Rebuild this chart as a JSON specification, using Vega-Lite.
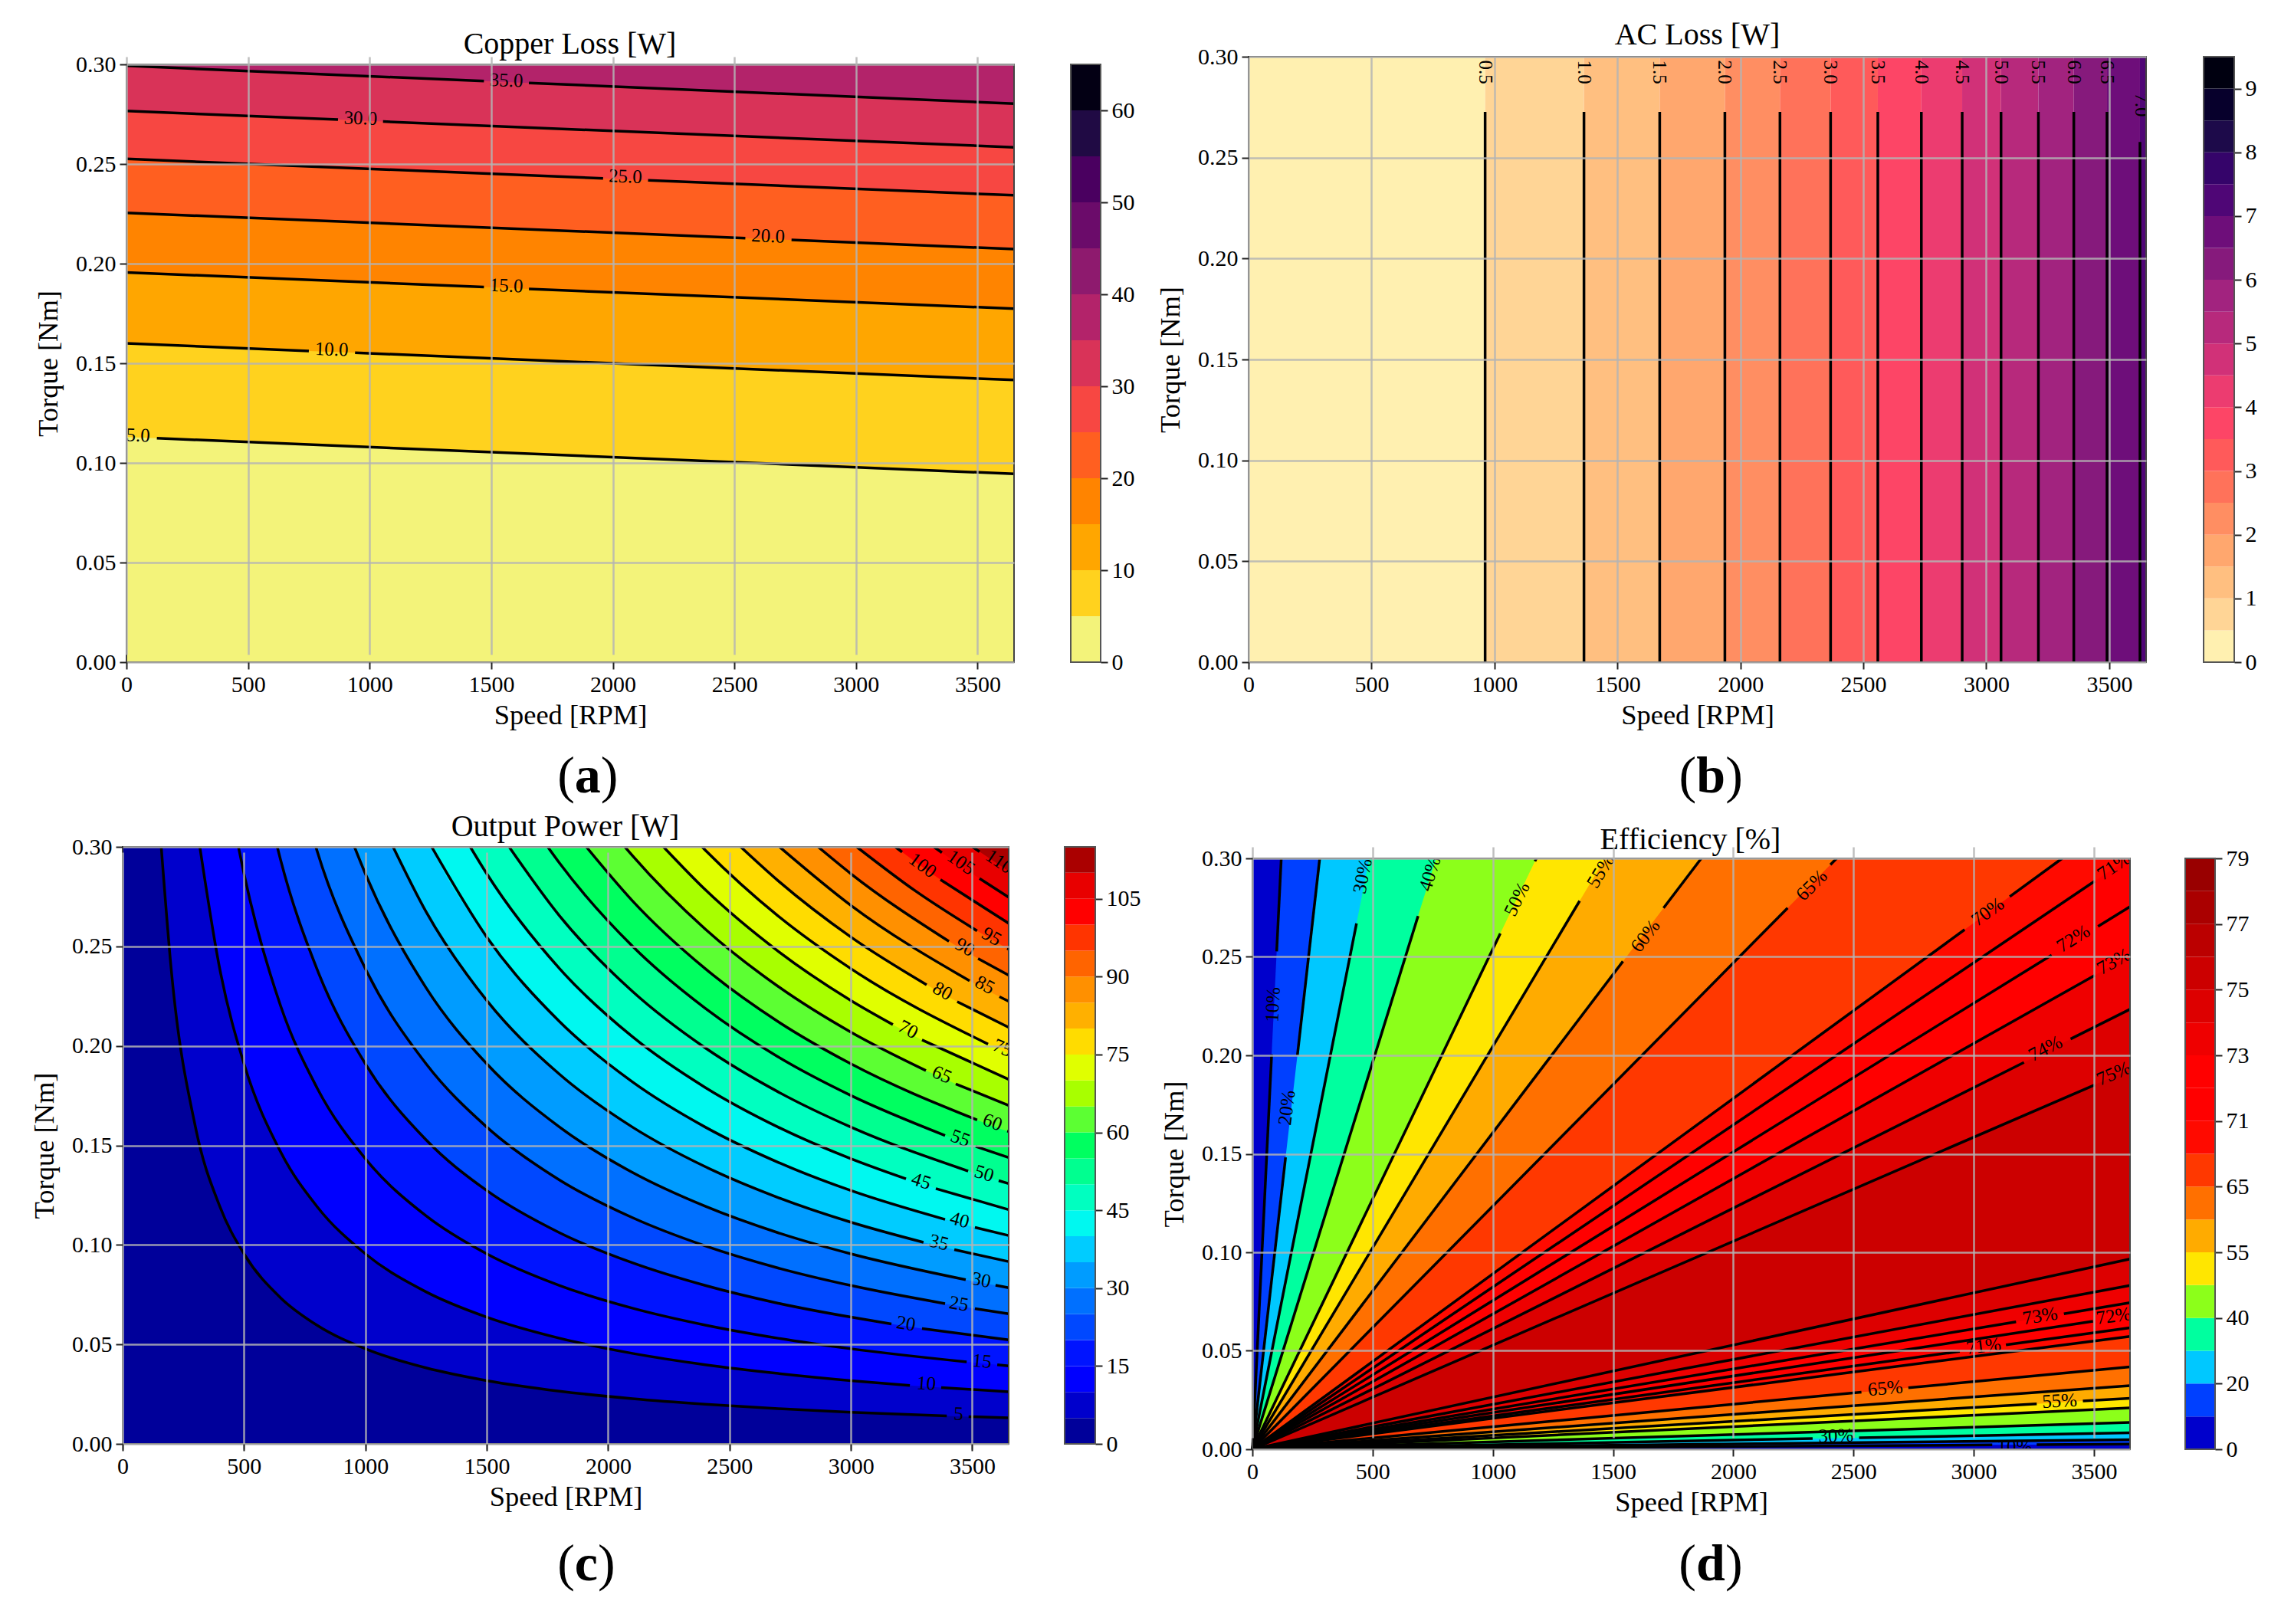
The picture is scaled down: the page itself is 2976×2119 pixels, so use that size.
{"$schema":"https://vega.github.io/schema/vega-lite/v6.json","background":"white","padding":{"left":40,"top":26,"right":5,"bottom":5},"autosize":{"type":"pad"},"columns":4,"bounds":"flush","spacing":{"row":241,"column":0},"resolve":{"scale":{"color":"independent"}},
"config":{"view":{"stroke":null},"title":{"font":"Liberation Serif","fontSize":40,"fontWeight":"normal","color":"black"},"axis":{"labelFont":"Liberation Serif","labelFontSize":30,"labelColor":"black","titleFont":"Liberation Serif","titleFontSize":36.5,"titleFontWeight":"normal","titleColor":"black","tickColor":"#222","tickSize":9,"tickWidth":2,"domain":false,"labelFlush":false,"labelOverlap":false,"labelBound":false,"labelPadding":5,"gridColor":"#b4b4b4","gridWidth":2.5,"gridOpacity":0.85}},
"datasets":{
"aLines":[{"lo":35,"s":0,"t":0.3,"g":0},{"lo":35,"s":3650,"t":0.3,"g":0},
{"lo":30,"s":0,"t":0.2993,"g":1},{"lo":30,"s":1470,"t":0.2916,"g":1},{"lo":30,"s":1655,"t":0.2907,"g":2},{"lo":30,"s":3650,"t":0.2803,"g":2},
{"lo":25,"s":0,"t":0.2766,"g":1},{"lo":25,"s":870,"t":0.2723,"g":1},{"lo":25,"s":1055,"t":0.2713,"g":2},{"lo":25,"s":3650,"t":0.2584,"g":2},
{"lo":20,"s":0,"t":0.2526,"g":1},{"lo":20,"s":1960,"t":0.2428,"g":1},{"lo":20,"s":2145,"t":0.2418,"g":2},{"lo":20,"s":3650,"t":0.2343,"g":2},
{"lo":15,"s":0,"t":0.2255,"g":1},{"lo":15,"s":2545,"t":0.2128,"g":1},{"lo":15,"s":2735,"t":0.2119,"g":2},{"lo":15,"s":3650,"t":0.2073,"g":2},
{"lo":10,"s":0,"t":0.1956,"g":1},{"lo":10,"s":1470,"t":0.1883,"g":1},{"lo":10,"s":1655,"t":0.1873,"g":2},{"lo":10,"s":3650,"t":0.1774,"g":2},
{"lo":5,"s":0,"t":0.16,"g":1},{"lo":5,"s":750,"t":0.1562,"g":1},{"lo":5,"s":940,"t":0.1553,"g":2},{"lo":5,"s":3650,"t":0.1416,"g":2},
{"lo":0,"s":0,"t":0.113,"g":0},{"lo":0,"s":125,"t":0.1124,"g":2},{"lo":0,"s":3650,"t":0.0945,"g":2}],
"aLabels":[{"lab":"35.0","s":1562,"t":0.292},{"lab":"30.0","s":963,"t":0.273},{"lab":"25.0","s":2052,"t":0.2438},{"lab":"20.0","s":2639,"t":0.2139},{"lab":"15.0","s":1562,"t":0.189},{"lab":"10.0","s":844,"t":0.157},{"lab":"5.0","s":48,"t":0.1139}],
"aBar":[{"lo":0,"hi":5},{"lo":5,"hi":10},{"lo":10,"hi":15},{"lo":15,"hi":20},{"lo":20,"hi":25},{"lo":25,"hi":30},{"lo":30,"hi":35},{"lo":35,"hi":40},{"lo":40,"hi":45},{"lo":45,"hi":50},{"lo":50,"hi":55},{"lo":55,"hi":60},{"lo":60,"hi":65}],
"bBands":[{"lo":0,"s":0,"s2":962,"t":0,"t2":0.3,"top":0.2727},{"lo":0.5,"s":962,"s2":1364,"t":0,"t2":0.3,"top":0.2727},{"lo":1,"s":1364,"s2":1672,"t":0,"t2":0.3,"top":0.2727},{"lo":1.5,"s":1672,"s2":1937,"t":0,"t2":0.3,"top":0.2727},{"lo":2,"s":1937,"s2":2161,"t":0,"t2":0.3,"top":0.2727},{"lo":2.5,"s":2161,"s2":2367,"t":0,"t2":0.3,"top":0.2727},{"lo":3,"s":2367,"s2":2559,"t":0,"t2":0.3,"top":0.2727},{"lo":3.5,"s":2559,"s2":2736,"t":0,"t2":0.3,"top":0.2727},{"lo":4,"s":2736,"s2":2902,"t":0,"t2":0.3,"top":0.2727},{"lo":4.5,"s":2902,"s2":3060,"t":0,"t2":0.3,"top":0.2727},{"lo":5,"s":3060,"s2":3212,"t":0,"t2":0.3,"top":0.2727},{"lo":5.5,"s":3212,"s2":3356,"t":0,"t2":0.3,"top":0.2727},{"lo":6,"s":3356,"s2":3491,"t":0,"t2":0.3,"top":0.2727},{"lo":6.5,"s":3491,"s2":3625,"t":0,"t2":0.3,"top":0.2578},{"lo":7,"s":3625,"s2":3650,"t":0,"t2":0.3,"top":0}],
"bLabels":[{"lab":"0.5","s":962,"t":0.2924},{"lab":"1.0","s":1364,"t":0.2924},{"lab":"1.5","s":1672,"t":0.2924},{"lab":"2.0","s":1937,"t":0.2924},{"lab":"2.5","s":2161,"t":0.2924},{"lab":"3.0","s":2367,"t":0.2924},{"lab":"3.5","s":2559,"t":0.2924},{"lab":"4.0","s":2736,"t":0.2924},{"lab":"4.5","s":2902,"t":0.2924},{"lab":"5.0","s":3060,"t":0.2924},{"lab":"5.5","s":3212,"t":0.2924},{"lab":"6.0","s":3356,"t":0.2924},{"lab":"6.5","s":3491,"t":0.2924},{"lab":"7.0","s":3632,"t":0.2761}],
"bBar":[{"lo":0,"hi":0.5},{"lo":0.5,"hi":1},{"lo":1,"hi":1.5},{"lo":1.5,"hi":2},{"lo":2,"hi":2.5},{"lo":2.5,"hi":3},{"lo":3,"hi":3.5},{"lo":3.5,"hi":4},{"lo":4,"hi":4.5},{"lo":4.5,"hi":5},{"lo":5,"hi":5.5},{"lo":5.5,"hi":6},{"lo":6,"hi":6.5},{"lo":6.5,"hi":7},{"lo":7,"hi":7.5},{"lo":7.5,"hi":8},{"lo":8,"hi":8.5},{"lo":8.5,"hi":9},{"lo":9,"hi":9.5}],
"cCurves":[{"lo":110,"s":0,"t":1.2,"g":0},{"lo":110,"s":3650,"t":1.2,"g":0},
{"lo":105,"s":0,"t":1.2,"g":0},{"lo":105,"s":1751,"t":0.6,"g":0},{"lo":105,"s":3501,"t":0.3,"g":1},{"lo":105,"s":3530,"t":0.2976,"g":1},{"lo":105,"s":3650,"t":0.2878,"g":2},
{"lo":100,"s":0,"t":1.2,"g":0},{"lo":100,"s":1671,"t":0.6,"g":0},{"lo":100,"s":3342,"t":0.3,"g":1},{"lo":100,"s":3375,"t":0.2971,"g":1},{"lo":100,"s":3530,"t":0.2841,"g":2},{"lo":100,"s":3650,"t":0.2747,"g":2},
{"lo":95,"s":0,"t":1.2,"g":0},{"lo":95,"s":1592,"t":0.6,"g":0},{"lo":95,"s":3183,"t":0.3,"g":1},{"lo":95,"s":3211,"t":0.2974,"g":1},{"lo":95,"s":3369,"t":0.2835,"g":2},{"lo":95,"s":3650,"t":0.2616,"g":2},
{"lo":90,"s":0,"t":1.2,"g":0},{"lo":90,"s":1512,"t":0.6,"g":0},{"lo":90,"s":3024,"t":0.3,"g":1},{"lo":90,"s":3270,"t":0.2775,"g":1},{"lo":90,"s":3520,"t":0.2578,"g":1},{"lo":90,"s":3644,"t":0.249,"g":2},{"lo":90,"s":3650,"t":0.2486,"g":2},
{"lo":85,"s":0,"t":1.2,"g":0},{"lo":85,"s":1433,"t":0.6,"g":0},{"lo":85,"s":2865,"t":0.3,"g":1},{"lo":85,"s":3000,"t":0.2865,"g":1},{"lo":85,"s":3404,"t":0.2525,"g":1},{"lo":85,"s":3524,"t":0.2439,"g":2},{"lo":85,"s":3650,"t":0.2355,"g":2},
{"lo":80,"s":0,"t":1.2,"g":0},{"lo":80,"s":1353,"t":0.6,"g":0},{"lo":80,"s":2706,"t":0.3,"g":1},{"lo":80,"s":3000,"t":0.2706,"g":1},{"lo":80,"s":3489,"t":0.2327,"g":1},{"lo":80,"s":3612,"t":0.2247,"g":2},{"lo":80,"s":3650,"t":0.2224,"g":2},
{"lo":75,"s":0,"t":1.2,"g":0},{"lo":75,"s":1273,"t":0.6,"g":0},{"lo":75,"s":2546,"t":0.3,"g":1},{"lo":75,"s":2700,"t":0.283,"g":1},{"lo":75,"s":3000,"t":0.2547,"g":1},{"lo":75,"s":3312,"t":0.2307,"g":1},{"lo":75,"s":3438,"t":0.2222,"g":2},{"lo":75,"s":3650,"t":0.2093,"g":2},
{"lo":70,"s":0,"t":1.2,"g":0},{"lo":70,"s":1194,"t":0.6,"g":0},{"lo":70,"s":2387,"t":0.3,"g":1},{"lo":70,"s":2400,"t":0.2984,"g":1},{"lo":70,"s":2700,"t":0.2653,"g":1},{"lo":70,"s":3000,"t":0.2388,"g":1},{"lo":70,"s":3565,"t":0.2009,"g":1},{"lo":70,"s":3650,"t":0.1962,"g":2},
{"lo":65,"s":0,"t":1.2,"g":0},{"lo":65,"s":1114,"t":0.6,"g":0},{"lo":65,"s":2228,"t":0.3,"g":1},{"lo":65,"s":2400,"t":0.2785,"g":1},{"lo":65,"s":2700,"t":0.2476,"g":1},{"lo":65,"s":3000,"t":0.2228,"g":1},{"lo":65,"s":3173,"t":0.2107,"g":1},{"lo":65,"s":3293,"t":0.203,"g":2},{"lo":65,"s":3650,"t":0.1832,"g":2},
{"lo":60,"s":0,"t":1.2,"g":0},{"lo":60,"s":1035,"t":0.6,"g":0},{"lo":60,"s":2069,"t":0.3,"g":1},{"lo":60,"s":2100,"t":0.2956,"g":1},{"lo":60,"s":2400,"t":0.2587,"g":1},{"lo":60,"s":2700,"t":0.2299,"g":1},{"lo":60,"s":3000,"t":0.2069,"g":1},{"lo":60,"s":3309,"t":0.1876,"g":1},{"lo":60,"s":3432,"t":0.1809,"g":2},{"lo":60,"s":3650,"t":0.1701,"g":2},
{"lo":55,"s":0,"t":1.2,"g":0},{"lo":55,"s":955,"t":0.6,"g":0},{"lo":55,"s":1910,"t":0.3,"g":1},{"lo":55,"s":2100,"t":0.2729,"g":1},{"lo":55,"s":2400,"t":0.2388,"g":1},{"lo":55,"s":2700,"t":0.2122,"g":1},{"lo":55,"s":3000,"t":0.191,"g":1},{"lo":55,"s":3520,"t":0.1628,"g":1},{"lo":55,"s":3644,"t":0.1572,"g":2},{"lo":55,"s":3650,"t":0.157,"g":2},
{"lo":50,"s":0,"t":1.2,"g":0},{"lo":50,"s":875,"t":0.6,"g":0},{"lo":50,"s":1751,"t":0.3,"g":1},{"lo":50,"s":1800,"t":0.2918,"g":1},{"lo":50,"s":2100,"t":0.2501,"g":1},{"lo":50,"s":2400,"t":0.2189,"g":1},{"lo":50,"s":2700,"t":0.1945,"g":1},{"lo":50,"s":3000,"t":0.1751,"g":1},{"lo":50,"s":3388,"t":0.155,"g":1},{"lo":50,"s":3514,"t":0.1495,"g":2},{"lo":50,"s":3650,"t":0.1439,"g":2},
{"lo":45,"s":0,"t":1.2,"g":0},{"lo":45,"s":796,"t":0.6,"g":0},{"lo":45,"s":1592,"t":0.3,"g":1},{"lo":45,"s":1800,"t":0.2653,"g":1},{"lo":45,"s":2100,"t":0.2274,"g":1},{"lo":45,"s":2400,"t":0.199,"g":1},{"lo":45,"s":2700,"t":0.1769,"g":1},{"lo":45,"s":3000,"t":0.1592,"g":1},{"lo":45,"s":3483,"t":0.1371,"g":1},{"lo":45,"s":3609,"t":0.1323,"g":2},{"lo":45,"s":3650,"t":0.1308,"g":2},
{"lo":40,"s":0,"t":1.2,"g":0},{"lo":40,"s":716,"t":0.6,"g":0},{"lo":40,"s":1432,"t":0.3,"g":1},{"lo":40,"s":1500,"t":0.2865,"g":1},{"lo":40,"s":1800,"t":0.2388,"g":1},{"lo":40,"s":2100,"t":0.2046,"g":1},{"lo":40,"s":2400,"t":0.1791,"g":1},{"lo":40,"s":2700,"t":0.1592,"g":1},{"lo":40,"s":3000,"t":0.1433,"g":1},{"lo":40,"s":3227,"t":0.1332,"g":1},{"lo":40,"s":3350,"t":0.1283,"g":2},{"lo":40,"s":3650,"t":0.1177,"g":2},
{"lo":35,"s":0,"t":1.2,"g":0},{"lo":35,"s":637,"t":0.6,"g":0},{"lo":35,"s":1273,"t":0.3,"g":1},{"lo":35,"s":1500,"t":0.2547,"g":1},{"lo":35,"s":1800,"t":0.2122,"g":1},{"lo":35,"s":2100,"t":0.1819,"g":1},{"lo":35,"s":2400,"t":0.1592,"g":1},{"lo":35,"s":2700,"t":0.1415,"g":1},{"lo":35,"s":3000,"t":0.1273,"g":1},{"lo":35,"s":3388,"t":0.1128,"g":1},{"lo":35,"s":3511,"t":0.1088,"g":2},{"lo":35,"s":3650,"t":0.1047,"g":2},
{"lo":30,"s":0,"t":1.2,"g":0},{"lo":30,"s":557,"t":0.6,"g":0},{"lo":30,"s":1114,"t":0.3,"g":1},{"lo":30,"s":1250,"t":0.2674,"g":1},{"lo":30,"s":1500,"t":0.2228,"g":1},{"lo":30,"s":1800,"t":0.1857,"g":1},{"lo":30,"s":2100,"t":0.1592,"g":1},{"lo":30,"s":2400,"t":0.1393,"g":1},{"lo":30,"s":2700,"t":0.1238,"g":1},{"lo":30,"s":3000,"t":0.1114,"g":1},{"lo":30,"s":3299,"t":0.1013,"g":1},{"lo":30,"s":3426,"t":0.0976,"g":2},{"lo":30,"s":3650,"t":0.0916,"g":2},
{"lo":25,"s":0,"t":1.2,"g":0},{"lo":25,"s":478,"t":0.6,"g":0},{"lo":25,"s":955,"t":0.3,"g":1},{"lo":25,"s":1000,"t":0.2865,"g":1},{"lo":25,"s":1250,"t":0.2292,"g":1},{"lo":25,"s":1500,"t":0.191,"g":1},{"lo":25,"s":1800,"t":0.1592,"g":1},{"lo":25,"s":2100,"t":0.1364,"g":1},{"lo":25,"s":2400,"t":0.1194,"g":1},{"lo":25,"s":2700,"t":0.1061,"g":1},{"lo":25,"s":3000,"t":0.0955,"g":1},{"lo":25,"s":3473,"t":0.0825,"g":1},{"lo":25,"s":3596,"t":0.0797,"g":2},{"lo":25,"s":3650,"t":0.0785,"g":2},
{"lo":20,"s":0,"t":1.2,"g":0},{"lo":20,"s":398,"t":0.6,"g":0},{"lo":20,"s":796,"t":0.3,"g":1},{"lo":20,"s":800,"t":0.2984,"g":1},{"lo":20,"s":1000,"t":0.2388,"g":1},{"lo":20,"s":1250,"t":0.191,"g":1},{"lo":20,"s":1500,"t":0.1592,"g":1},{"lo":20,"s":1800,"t":0.1326,"g":1},{"lo":20,"s":2100,"t":0.1137,"g":1},{"lo":20,"s":2400,"t":0.0995,"g":1},{"lo":20,"s":2700,"t":0.0884,"g":1},{"lo":20,"s":3000,"t":0.0796,"g":1},{"lo":20,"s":3388,"t":0.0705,"g":1},{"lo":20,"s":3511,"t":0.068,"g":2},{"lo":20,"s":3650,"t":0.0654,"g":2},
{"lo":15,"s":0,"t":1.2,"g":0},{"lo":15,"s":318,"t":0.6,"g":0},{"lo":15,"s":637,"t":0.3,"g":1},{"lo":15,"s":650,"t":0.2938,"g":1},{"lo":15,"s":800,"t":0.2388,"g":1},{"lo":15,"s":1000,"t":0.191,"g":1},{"lo":15,"s":1250,"t":0.1528,"g":1},{"lo":15,"s":1500,"t":0.1273,"g":1},{"lo":15,"s":1800,"t":0.1061,"g":1},{"lo":15,"s":2100,"t":0.091,"g":1},{"lo":15,"s":2400,"t":0.0796,"g":1},{"lo":15,"s":2700,"t":0.0707,"g":1},{"lo":15,"s":3000,"t":0.0637,"g":1},{"lo":15,"s":3167,"t":0.0603,"g":1},{"lo":15,"s":3293,"t":0.058,"g":2},{"lo":15,"s":3650,"t":0.0523,"g":2},
{"lo":10,"s":0,"t":1.2,"g":0},{"lo":10,"s":239,"t":0.6,"g":0},{"lo":10,"s":477,"t":0.3,"g":1},{"lo":10,"s":500,"t":0.2865,"g":1},{"lo":10,"s":650,"t":0.2204,"g":1},{"lo":10,"s":800,"t":0.1791,"g":1},{"lo":10,"s":1000,"t":0.1433,"g":1},{"lo":10,"s":1250,"t":0.1146,"g":1},{"lo":10,"s":1500,"t":0.0955,"g":1},{"lo":10,"s":1800,"t":0.0796,"g":1},{"lo":10,"s":2100,"t":0.0682,"g":1},{"lo":10,"s":2400,"t":0.0597,"g":1},{"lo":10,"s":2700,"t":0.0531,"g":1},{"lo":10,"s":3000,"t":0.0478,"g":1},{"lo":10,"s":3477,"t":0.0412,"g":1},{"lo":10,"s":3603,"t":0.0398,"g":2},{"lo":10,"s":3650,"t":0.0392,"g":2},
{"lo":5,"s":0,"t":1.2,"g":0},{"lo":5,"s":159,"t":0.6,"g":0},{"lo":5,"s":318,"t":0.3,"g":1},{"lo":5,"s":400,"t":0.2388,"g":1},{"lo":5,"s":500,"t":0.191,"g":1},{"lo":5,"s":650,"t":0.1469,"g":1},{"lo":5,"s":800,"t":0.1194,"g":1},{"lo":5,"s":1000,"t":0.0955,"g":1},{"lo":5,"s":1250,"t":0.0764,"g":1},{"lo":5,"s":1500,"t":0.0637,"g":1},{"lo":5,"s":1800,"t":0.0531,"g":1},{"lo":5,"s":2100,"t":0.0455,"g":1},{"lo":5,"s":2400,"t":0.0398,"g":1},{"lo":5,"s":2700,"t":0.0354,"g":1},{"lo":5,"s":3000,"t":0.0318,"g":1},{"lo":5,"s":3243,"t":0.0294,"g":1},{"lo":5,"s":3372,"t":0.0283,"g":2},{"lo":5,"s":3650,"t":0.0262,"g":2},
{"lo":0,"s":0,"t":1.2,"g":0},{"lo":0,"s":80,"t":0.6,"g":0},{"lo":0,"s":159,"t":0.3,"g":1},{"lo":0,"s":200,"t":0.2387,"g":1},{"lo":0,"s":300,"t":0.1592,"g":1},{"lo":0,"s":400,"t":0.1194,"g":1},{"lo":0,"s":500,"t":0.0955,"g":1},{"lo":0,"s":650,"t":0.0735,"g":1},{"lo":0,"s":800,"t":0.0597,"g":1},{"lo":0,"s":1000,"t":0.0478,"g":1},{"lo":0,"s":1250,"t":0.0382,"g":1},{"lo":0,"s":1500,"t":0.0318,"g":1},{"lo":0,"s":1800,"t":0.0265,"g":1},{"lo":0,"s":2100,"t":0.0227,"g":1},{"lo":0,"s":2400,"t":0.0199,"g":1},{"lo":0,"s":2700,"t":0.0177,"g":1},{"lo":0,"s":3000,"t":0.0159,"g":1},{"lo":0,"s":3395,"t":0.0141,"g":1},{"lo":0,"s":3485,"t":0.0137,"g":2},{"lo":0,"s":3650,"t":0.0131,"g":2}],
"cLabels":[{"lab":"5","s":3443,"t":0.0151,"rot":2},{"lab":"10","s":3311,"t":0.0304,"rot":4},{"lab":"15","s":3540,"t":0.0416,"rot":5},{"lab":"20","s":3227,"t":0.0605,"rot":9},{"lab":"25","s":3445,"t":0.0705,"rot":10},{"lab":"30","s":3537,"t":0.0824,"rot":11},{"lab":"35","s":3363,"t":0.1013,"rot":14},{"lab":"40","s":3448,"t":0.1125,"rot":15},{"lab":"45","s":3290,"t":0.1321,"rot":18},{"lab":"50","s":3549,"t":0.1359,"rot":17},{"lab":"55","s":3451,"t":0.1537,"rot":20},{"lab":"60","s":3584,"t":0.1617,"rot":20},{"lab":"65","s":3375,"t":0.1856,"rot":24},{"lab":"70","s":3236,"t":0.2083,"rot":28},{"lab":"75","s":3625,"t":0.199,"rot":24},{"lab":"80","s":3378,"t":0.2276,"rot":29},{"lab":"85","s":3552,"t":0.2307,"rot":28},{"lab":"90","s":3470,"t":0.2496,"rot":30},{"lab":"95","s":3580,"t":0.255,"rot":30},{"lab":"100","s":3296,"t":0.2907,"rot":36},{"lab":"105","s":3454,"t":0.2922,"rot":35},{"lab":"110","s":3612,"t":0.2926,"rot":34}],
"cBar":[{"lo":0,"hi":5},{"lo":5,"hi":10},{"lo":10,"hi":15},{"lo":15,"hi":20},{"lo":20,"hi":25},{"lo":25,"hi":30},{"lo":30,"hi":35},{"lo":35,"hi":40},{"lo":40,"hi":45},{"lo":45,"hi":50},{"lo":50,"hi":55},{"lo":55,"hi":60},{"lo":60,"hi":65},{"lo":65,"hi":70},{"lo":70,"hi":75},{"lo":75,"hi":80},{"lo":80,"hi":85},{"lo":85,"hi":90},{"lo":90,"hi":95},{"lo":95,"hi":100},{"lo":100,"hi":105},{"lo":105,"hi":110},{"lo":110,"hi":115}],
"dRays":[{"r":"u0","lo":0,"s":0,"t":0.3,"g":0},{"r":"u0","lo":0,"s":3650,"t":0.3,"g":0},
{"r":"u10","lo":10,"s":0,"t":0,"g":1},{"r":"u10","lo":10,"s":80,"t":0.2005,"g":1},{"r":"u10","lo":10,"s":101,"t":0.2528,"g":2},{"r":"u10","lo":10,"s":120,"t":0.3,"g":2},{"r":"u10","lo":10,"s":3650,"t":0.3,"g":0},
{"r":"u20","lo":20,"s":0,"t":0,"g":1},{"r":"u20","lo":20,"s":138,"t":0.1482,"g":1},{"r":"u20","lo":20,"s":187,"t":0.1999,"g":2},{"r":"u20","lo":20,"s":280,"t":0.3,"g":2},{"r":"u20","lo":20,"s":3650,"t":0.3,"g":0},
{"r":"u30","lo":30,"s":0,"t":0,"g":1},{"r":"u30","lo":30,"s":433,"t":0.267,"g":1},{"r":"u30","lo":30,"s":486,"t":0.3,"g":0},{"r":"u30","lo":30,"s":3650,"t":0.3,"g":0},
{"r":"u40","lo":40,"s":0,"t":0,"g":1},{"r":"u40","lo":40,"s":689,"t":0.2707,"g":1},{"r":"u40","lo":40,"s":764,"t":0.3,"g":0},{"r":"u40","lo":40,"s":3650,"t":0.3,"g":0},
{"r":"u50","lo":50,"s":0,"t":0,"g":1},{"r":"u50","lo":50,"s":1031,"t":0.2619,"g":1},{"r":"u50","lo":50,"s":1175,"t":0.2985,"g":2},{"r":"u50","lo":50,"s":1181,"t":0.3,"g":2},{"r":"u50","lo":50,"s":3650,"t":0.3,"g":0},
{"r":"u55","lo":55,"s":0,"t":0,"g":1},{"r":"u55","lo":55,"s":1361,"t":0.2784,"g":1},{"r":"u55","lo":55,"s":1467,"t":0.3,"g":0},{"r":"u55","lo":55,"s":3650,"t":0.3,"g":0},
{"r":"u60","lo":60,"s":0,"t":0,"g":1},{"r":"u60","lo":60,"s":1541,"t":0.2477,"g":1},{"r":"u60","lo":60,"s":1710,"t":0.2748,"g":2},{"r":"u60","lo":60,"s":1867,"t":0.3,"g":2},{"r":"u60","lo":60,"s":3650,"t":0.3,"g":0},
{"r":"u65","lo":65,"s":0,"t":0,"g":1},{"r":"u65","lo":65,"s":2226,"t":0.2748,"g":1},{"r":"u65","lo":65,"s":2404,"t":0.2968,"g":2},{"r":"u65","lo":65,"s":2430,"t":0.3,"g":2},{"r":"u65","lo":65,"s":3650,"t":0.3,"g":0},
{"r":"u70","lo":70,"s":0,"t":0,"g":1},{"r":"u70","lo":70,"s":2962,"t":0.2638,"g":1},{"r":"u70","lo":70,"s":3150,"t":0.2806,"g":2},{"r":"u70","lo":70,"s":3368,"t":0.3,"g":2},{"r":"u70","lo":70,"s":3650,"t":0.3,"g":0},
{"r":"u71","lo":71,"s":0,"t":0,"g":1},{"r":"u71","lo":71,"s":3503,"t":0.2884,"g":1},{"r":"u71","lo":71,"s":3644,"t":0.3,"g":0},{"r":"u71","lo":71,"s":3650,"t":0.3,"g":0},
{"r":"u72","lo":72,"s":0,"t":0,"g":1},{"r":"u72","lo":72,"s":3324,"t":0.2509,"g":1},{"r":"u72","lo":72,"s":3517,"t":0.2655,"g":2},{"r":"u72","lo":72,"s":3650,"t":0.2755,"g":2},
{"r":"u73","lo":73,"s":0,"t":0,"g":1},{"r":"u73","lo":73,"s":3503,"t":0.2406,"g":1},{"r":"u73","lo":73,"s":3650,"t":0.2507,"g":0},
{"r":"u74","lo":74,"s":0,"t":0,"g":1},{"r":"u74","lo":74,"s":3209,"t":0.1964,"g":1},{"r":"u74","lo":74,"s":3403,"t":0.2083,"g":2},{"r":"u74","lo":74,"s":3650,"t":0.2234,"g":2},
{"r":"u75","lo":75,"s":0,"t":0,"g":1},{"r":"u75","lo":75,"s":3503,"t":0.185,"g":1},{"r":"u75","lo":75,"s":3650,"t":0.1928,"g":0},
{"r":"d75","lo":74,"s":0,"t":0,"g":1},{"r":"d75","lo":74,"s":3650,"t":0.0966,"g":1},
{"r":"d74","lo":73,"s":0,"t":0,"g":1},{"r":"d74","lo":73,"s":3650,"t":0.0832,"g":1},
{"r":"d73","lo":72,"s":0,"t":0,"g":1},{"r":"d73","lo":72,"s":3176,"t":0.0647,"g":1},{"r":"d73","lo":72,"s":3375,"t":0.0688,"g":2},{"r":"d73","lo":72,"s":3650,"t":0.0744,"g":2},
{"r":"d72","lo":71,"s":0,"t":0,"g":1},{"r":"d72","lo":71,"s":3496,"t":0.065,"g":1},{"r":"d72","lo":71,"s":3650,"t":0.0679,"g":0},
{"r":"d71","lo":70,"s":0,"t":0,"g":1},{"r":"d71","lo":70,"s":2942,"t":0.0497,"g":1},{"r":"d71","lo":70,"s":3134,"t":0.053,"g":2},{"r":"d71","lo":70,"s":3650,"t":0.0617,"g":2},
{"r":"d70","lo":65,"s":0,"t":0,"g":1},{"r":"d70","lo":65,"s":3650,"t":0.0573,"g":1},
{"r":"d65","lo":60,"s":0,"t":0,"g":1},{"r":"d65","lo":60,"s":2533,"t":0.029,"g":1},{"r":"d65","lo":60,"s":2728,"t":0.0312,"g":2},{"r":"d65","lo":60,"s":3650,"t":0.0418,"g":2},
{"r":"d60","lo":55,"s":0,"t":0,"g":1},{"r":"d60","lo":55,"s":3650,"t":0.0323,"g":1},
{"r":"d55","lo":50,"s":0,"t":0,"g":1},{"r":"d55","lo":50,"s":3262,"t":0.0231,"g":1},{"r":"d55","lo":50,"s":3454,"t":0.0245,"g":2},{"r":"d55","lo":50,"s":3650,"t":0.0259,"g":2},
{"r":"d50","lo":40,"s":0,"t":0,"g":1},{"r":"d50","lo":40,"s":3650,"t":0.021,"g":1},
{"r":"d40","lo":30,"s":0,"t":0,"g":1},{"r":"d40","lo":30,"s":3650,"t":0.0136,"g":1},
{"r":"d30","lo":20,"s":0,"t":0,"g":1},{"r":"d30","lo":20,"s":2330,"t":0.0054,"g":1},{"r":"d30","lo":20,"s":2523,"t":0.0058,"g":2},{"r":"d30","lo":20,"s":3650,"t":0.0084,"g":2},
{"r":"d20","lo":10,"s":0,"t":0,"g":1},{"r":"d20","lo":10,"s":3650,"t":0.0049,"g":1},
{"r":"d10","lo":0,"s":0,"t":0,"g":1},{"r":"d10","lo":0,"s":3077,"t":0.0022,"g":1},{"r":"d10","lo":0,"s":3262,"t":0.0023,"g":2},{"r":"d10","lo":0,"s":3650,"t":0.0026,"g":2}],
"dLabels":[{"lab":"10%","s":85,"t":0.2257,"rot":-87},{"lab":"20%","s":143,"t":0.1734,"rot":-83},{"lab":"30%","s":458,"t":0.291,"rot":-79},{"lab":"40%","s":738,"t":0.2922,"rot":-73},{"lab":"50%","s":1100,"t":0.2793,"rot":-64},{"lab":"55%","s":1448,"t":0.2935,"rot":-59},{"lab":"60%","s":1634,"t":0.2606,"rot":-53},{"lab":"65%","s":2326,"t":0.2864,"rot":-45},{"lab":"70%","s":3058,"t":0.2729,"rot":-36},{"lab":"71%","s":3582,"t":0.2961,"rot":-34},{"lab":"72%","s":3414,"t":0.2593,"rot":-32},{"lab":"73%","s":3582,"t":0.2477,"rot":-29},{"lab":"74%","s":3298,"t":0.2035,"rot":-27},{"lab":"75%","s":3582,"t":0.1908,"rot":-23},{"lab":"73%","s":3276,"t":0.0677,"rot":-9},{"lab":"72%","s":3582,"t":0.0677,"rot":-8},{"lab":"71%","s":3041,"t":0.0524,"rot":-7},{"lab":"65%","s":2632,"t":0.031,"rot":-5},{"lab":"55%","s":3357,"t":0.0246,"rot":-3},{"lab":"30%","s":2427,"t":0.0069,"rot":-2},{"lab":"10%","s":3170,"t":0.0013,"rot":0}],
"dBar":[{"lo":0,"i0":0,"i1":1},{"lo":10,"i0":1,"i1":2},{"lo":20,"i0":2,"i1":3},{"lo":30,"i0":3,"i1":4},{"lo":40,"i0":4,"i1":5},{"lo":50,"i0":5,"i1":6},{"lo":55,"i0":6,"i1":7},{"lo":60,"i0":7,"i1":8},{"lo":65,"i0":8,"i1":9},{"lo":70,"i0":9,"i1":10},{"lo":71,"i0":10,"i1":11},{"lo":72,"i0":11,"i1":12},{"lo":73,"i0":12,"i1":13},{"lo":74,"i0":13,"i1":14},{"lo":75,"i0":14,"i1":15},{"lo":76,"i0":15,"i1":16},{"lo":77,"i0":16,"i1":17},{"lo":78,"i0":17,"i1":18}],
"tags":[{"panel":"a","s":1897,"t":-0.0577,"open":"(","letter":"a","close":")"},{"panel":"b","s":1880,"t":-0.057,"open":"(","letter":"b","close":")"},{"panel":"c","s":1910,"t":-0.0608,"open":"(","letter":"c","close":")"},{"panel":"d","s":1906,"t":-0.0588,"open":"(","letter":"d","close":")"}]
},
"concat":[
{"width":1163,"height":790,"title":{"text":"Copper Loss [W]","offset":-9,"dx":2},
"encoding":{"x":{"field":"s","type":"quantitative","scale":{"domain":[0,3650],"range":[5,1163],"nice":false,"zero":false},"axis":{"title":"Speed [RPM]","format":"d","values":[0,500,1000,1500,2000,2500,3000,3500],"grid":true,"zindex":1,"titlePadding":7}},"y":{"field":"t","type":"quantitative","stack":null,"scale":{"domain":[0,0.3],"range":[790,10],"nice":false,"zero":false},"axis":{"title":"Torque [Nm]","values":[0,0.05,0.1,0.15,0.2,0.25,0.3],"format":".2f","grid":true,"zindex":1,"offset":-5,"titlePadding":16}}},
"layer":[
{"data":{"name":"aLines"},"mark":{"type":"area","clip":true},"encoding":{"color":{"field":"lo","type":"ordinal","legend":null,"scale":{"domain":[0,5,10,15,20,25,30,35],"range":["#f3f37a","#ffd21e","#ffa600","#ff8400","#ff5f20","#f74742","#d93358","#b3236a"]}}}},
{"data":{"name":"aLines"},"transform":[{"filter":"datum.g>0"}],"mark":{"type":"line","color":"black","strokeWidth":3.5,"clip":true},"encoding":{"detail":[{"field":"lo"},{"field":"g"}]}},
{"data":{"name":"aLabels"},"mark":{"type":"text","font":"Liberation Serif","fontSize":25,"angle":2,"baseline":"middle","color":"black"},"encoding":{"text":{"field":"lab"}}},
{"data":{"values":[{"s":0,"s2":3650,"t":0,"t2":0.3}]},"mark":{"type":"rect","fill":"transparent","stroke":"#444","strokeWidth":2},"encoding":{"x2":{"field":"s2"},"y2":{"field":"t2"}}},
{"data":{"name":"tags"},"transform":[{"filter":"datum.panel=='a'"}],"mark":{"type":"text","font":"Liberation Serif","fontSize":68,"baseline":"middle","color":"black","align":"right","dx":-17},"encoding":{"text":{"field":"open"}}},
{"data":{"name":"tags"},"transform":[{"filter":"datum.panel=='a'"}],"mark":{"type":"text","font":"Liberation Serif","fontSize":68,"fontWeight":"bold","baseline":"middle","color":"black"},"encoding":{"text":{"field":"letter"}}},
{"data":{"name":"tags"},"transform":[{"filter":"datum.panel=='a'"}],"mark":{"type":"text","font":"Liberation Serif","fontSize":68,"baseline":"middle","color":"black","align":"left","dx":17},"encoding":{"text":{"field":"close"}}}
]},
{"width":306,"height":790,"data":{"name":"aBar"},
"layer":[{"mark":{"type":"rect"},"encoding":{"color":{"field":"lo","type":"ordinal","legend":null,"scale":{"domain":[0,5,10,15,20,25,30,35,40,45,50,55,60],"range":["#f3f37a","#ffd21e","#ffa600","#ff8400","#ff5f20","#f74742","#d93358","#b3236a","#8e1a6e","#6b0b6a","#4a0060","#200a44","#030014"]}}}},
{"mark":{"type":"rect","fill":"transparent","stroke":"#555","strokeWidth":2},"data":{"values":[{"lo":0,"hi":65}]}}],
"encoding":{"x":{"datum":0,"type":"quantitative","scale":{"domain":[0,1],"range":[74,113]},"axis":null},"x2":{"datum":1},"y":{"field":"lo","type":"quantitative","scale":{"domain":[0,65],"range":[790,10],"nice":false,"zero":false},"axis":{"orient":"right","title":null,"values":[0,10,20,30,40,50,60],"offset":-193,"grid":false}},"y2":{"field":"hi"}}},
{"width":1171,"height":790,"title":{"text":"AC Loss [W]","offset":-7},
"encoding":{"x":{"field":"s","type":"quantitative","scale":{"domain":[0,3650],"range":[0,1171],"nice":false,"zero":false},"axis":{"title":"Speed [RPM]","format":"d","values":[0,500,1000,1500,2000,2500,3000,3500],"grid":true,"zindex":1,"titlePadding":7}},"y":{"field":"t","type":"quantitative","stack":null,"scale":{"domain":[0,0.3],"range":[790,0],"nice":false,"zero":false},"axis":{"title":"Torque [Nm]","values":[0,0.05,0.1,0.15,0.2,0.25,0.3],"format":".2f","grid":true,"zindex":1,"titlePadding":16}}},
"layer":[
{"data":{"name":"bBands"},"mark":{"type":"rect"},"encoding":{"x2":{"field":"s2"},"y2":{"field":"t2"},"color":{"field":"lo","type":"ordinal","legend":null,"scale":{"domain":[0,0.5,1,1.5,2,2.5,3,3.5,4,4.5,5,5.5,6,6.5,7],"range":["#fff0b0","#ffd596","#ffbf80","#ffa76e","#ff8e62","#ff725a","#ff5a5a","#fd4566","#ec3c70","#d13178","#b7297c","#a2237f","#861a7c","#6e0e7a","#4f0676"]}}}},
{"data":{"name":"bBands"},"transform":[{"filter":"datum.top>0"}],"mark":{"type":"rule","color":"black","strokeWidth":3.5},"encoding":{"x":{"field":"s2"},"y2":{"field":"top"}}},
{"data":{"name":"bLabels"},"mark":{"type":"text","font":"Liberation Serif","fontSize":25,"angle":90,"baseline":"middle","color":"black","clip":true},"encoding":{"text":{"field":"lab"}}},
{"data":{"values":[{"s":0,"s2":3650,"t":0,"t2":0.3}]},"mark":{"type":"rect","fill":"transparent","stroke":"#444","strokeWidth":2},"encoding":{"x2":{"field":"s2"},"y2":{"field":"t2"}}},
{"data":{"name":"tags"},"transform":[{"filter":"datum.panel=='b'"}],"mark":{"type":"text","font":"Liberation Serif","fontSize":68,"baseline":"middle","color":"black","align":"right","dx":-19},"encoding":{"text":{"field":"open"}}},
{"data":{"name":"tags"},"transform":[{"filter":"datum.panel=='b'"}],"mark":{"type":"text","font":"Liberation Serif","fontSize":68,"fontWeight":"bold","baseline":"middle","color":"black"},"encoding":{"text":{"field":"letter"}}},
{"data":{"name":"tags"},"transform":[{"filter":"datum.panel=='b'"}],"mark":{"type":"text","font":"Liberation Serif","fontSize":68,"baseline":"middle","color":"black","align":"left","dx":19},"encoding":{"text":{"field":"close"}}}
]},
{"width":150,"height":790,"data":{"name":"bBar"},
"layer":[{"mark":{"type":"rect"},"encoding":{"color":{"field":"lo","type":"ordinal","legend":null,"scale":{"domain":[0,0.5,1,1.5,2,2.5,3,3.5,4,4.5,5,5.5,6,6.5,7,7.5,8,8.5,9],"range":["#fff0b0","#ffd596","#ffbf80","#ffa76e","#ff8e62","#ff725a","#ff5a5a","#fd4566","#ec3c70","#d13178","#b7297c","#a2237f","#861a7c","#6e0e7a","#4f0676","#35046a","#1d0a4a","#07002c","#000010"]}}}},
{"mark":{"type":"rect","fill":"transparent","stroke":"#555","strokeWidth":2},"data":{"values":[{"lo":0,"hi":9.5}]}}],
"encoding":{"x":{"datum":0,"type":"quantitative","scale":{"domain":[0,1],"range":[75,115]},"axis":null},"x2":{"datum":1},"y":{"field":"lo","type":"quantitative","scale":{"domain":[0,9.5],"range":[790,0],"nice":false,"zero":false},"axis":{"orient":"right","title":null,"values":[0,1,2,3,4,5,6,7,8,9],"offset":-35,"grid":false}},"y2":{"field":"hi"}}},
{"width":1163,"height":786,"title":{"text":"Output Power [W]","offset":-9,"dx":-4},
"encoding":{"x":{"field":"s","type":"quantitative","scale":{"domain":[0,3650],"range":[0,1156],"nice":false,"zero":false},"axis":{"title":"Speed [RPM]","format":"d","values":[0,500,1000,1500,2000,2500,3000,3500],"grid":true,"zindex":1,"offset":-7,"titlePadding":7}},"y":{"field":"t","type":"quantitative","stack":null,"scale":{"domain":[0,0.3],"range":[779,0],"nice":false,"zero":false},"axis":{"title":"Torque [Nm]","values":[0,0.05,0.1,0.15,0.2,0.25,0.3],"format":".2f","grid":true,"zindex":1,"titlePadding":16}}},
"layer":[
{"data":{"name":"cCurves"},"mark":{"type":"area","interpolate":"monotone","clip":true},"encoding":{"color":{"field":"lo","type":"ordinal","legend":null,"scale":{"domain":[0,5,10,15,20,25,30,35,40,45,50,55,60,65,70,75,80,85,90,95,100,105,110],"range":["#00009a","#0000cc","#0000ff","#0014ff","#0048ff","#0070ff","#009cff","#00ccff","#00f8f0","#00ffc0","#00ff90","#00ff60","#5cff33","#a8ff00","#e0ff00","#ffdc00","#ffb000","#ff9000","#ff6400","#ff3400","#ff0000","#e80000","#aa0000"]}}}},
{"data":{"name":"cCurves"},"transform":[{"filter":"datum.g>0"}],"mark":{"type":"line","interpolate":"monotone","color":"black","strokeWidth":3.5,"clip":true},"encoding":{"detail":[{"field":"lo"},{"field":"g"}]}},
{"data":{"name":"cLabels"},"mark":{"type":"text","font":"Liberation Serif","fontSize":25,"baseline":"middle","color":"black","clip":true},"encoding":{"text":{"field":"lab"},"angle":{"field":"rot","type":"quantitative","scale":null}}},
{"data":{"values":[{"s":3650,"s2":3680,"t":0,"t2":0.3}]},"mark":{"type":"rect","fill":"white","clip":true},"encoding":{"x2":{"field":"s2"},"y2":{"field":"t2"}}},
{"data":{"values":[{"s":0,"s2":3650,"t":0,"t2":0.3}]},"mark":{"type":"rect","fill":"transparent","stroke":"#444","strokeWidth":2},"encoding":{"x2":{"field":"s2"},"y2":{"field":"t2"}}},
{"data":{"name":"tags"},"transform":[{"filter":"datum.panel=='c'"}],"mark":{"type":"text","font":"Liberation Serif","fontSize":68,"baseline":"middle","color":"black","align":"right","dx":-15},"encoding":{"text":{"field":"open"}}},
{"data":{"name":"tags"},"transform":[{"filter":"datum.panel=='c'"}],"mark":{"type":"text","font":"Liberation Serif","fontSize":68,"fontWeight":"bold","baseline":"middle","color":"black"},"encoding":{"text":{"field":"letter"}}},
{"data":{"name":"tags"},"transform":[{"filter":"datum.panel=='c'"}],"mark":{"type":"text","font":"Liberation Serif","fontSize":68,"baseline":"middle","color":"black","align":"left","dx":15},"encoding":{"text":{"field":"close"}}}
]},
{"width":306,"height":786,"data":{"name":"cBar"},
"layer":[{"mark":{"type":"rect"},"encoding":{"color":{"field":"lo","type":"ordinal","legend":null,"scale":{"domain":[0,5,10,15,20,25,30,35,40,45,50,55,60,65,70,75,80,85,90,95,100,105,110],"range":["#00009a","#0000cc","#0000ff","#0014ff","#0048ff","#0070ff","#009cff","#00ccff","#00f8f0","#00ffc0","#00ff90","#00ff60","#5cff33","#a8ff00","#e0ff00","#ffdc00","#ffb000","#ff9000","#ff6400","#ff3400","#ff0000","#e80000","#aa0000"]}}}},
{"mark":{"type":"rect","fill":"transparent","stroke":"#555","strokeWidth":2},"data":{"values":[{"lo":0,"hi":115}]}}],
"encoding":{"x":{"datum":0,"type":"quantitative","scale":{"domain":[0,1],"range":[66,106]},"axis":null},"x2":{"datum":1},"y":{"field":"lo","type":"quantitative","scale":{"domain":[0,115],"range":[779,0],"nice":false,"zero":false},"axis":{"orient":"right","title":null,"values":[0,15,30,45,60,75,90,105],"offset":-200,"grid":false}},"y2":{"field":"hi"}}},
{"width":1171,"height":786,"title":{"text":"Efficiency [%]","offset":-11,"dx":-9},
"encoding":{"x":{"field":"s","type":"quantitative","scale":{"domain":[0,3650],"range":[5,1150],"nice":false,"zero":false},"axis":{"title":"Speed [RPM]","format":"d","values":[0,500,1000,1500,2000,2500,3000,3500],"grid":true,"zindex":1,"titlePadding":7}},"y":{"field":"t","type":"quantitative","stack":null,"scale":{"domain":[0,0.3],"range":[786,15],"nice":false,"zero":false},"axis":{"title":"Torque [Nm]","values":[0,0.05,0.1,0.15,0.2,0.25,0.3],"format":".2f","grid":true,"zindex":1,"offset":-5,"titlePadding":16}}},
"layer":[
{"data":{"name":"dRays"},"mark":{"type":"area","clip":true},"encoding":{"detail":{"field":"r"},"color":{"field":"lo","type":"ordinal","legend":null,"scale":{"domain":[0,10,20,30,40,50,55,60,65,70,71,72,73,74,75],"range":["#0000cc","#0040ff","#00c8ff","#00ff9f","#8cff1a","#ffe600","#ffab00","#ff7000","#ff3800","#ff0a00","#ff0000","#ff0000","#ef0000","#dd0000","#cc0000"]}}}},
{"data":{"name":"dRays"},"transform":[{"filter":"datum.g>0"}],"mark":{"type":"line","color":"black","strokeWidth":3.5,"clip":true},"encoding":{"detail":[{"field":"r"},{"field":"g"}]}},
{"data":{"name":"dLabels"},"mark":{"type":"text","font":"Liberation Serif","fontSize":25,"baseline":"middle","color":"black","clip":true},"encoding":{"text":{"field":"lab"},"angle":{"field":"rot","type":"quantitative","scale":null}}},
{"data":{"values":[{"s":3650,"s2":3720,"t":-0.001,"t2":0.31},{"s":0,"s2":3720,"t":0.3,"t2":0.307}]},"mark":{"type":"rect","fill":"white","clip":true},"encoding":{"x2":{"field":"s2"},"y2":{"field":"t2"}}},
{"data":{"values":[{"s":0,"s2":3650,"t":0,"t2":0.3}]},"mark":{"type":"rect","fill":"transparent","stroke":"#444","strokeWidth":2},"encoding":{"x2":{"field":"s2"},"y2":{"field":"t2"}}},
{"data":{"name":"tags"},"transform":[{"filter":"datum.panel=='d'"}],"mark":{"type":"text","font":"Liberation Serif","fontSize":68,"baseline":"middle","color":"black","align":"right","dx":-19},"encoding":{"text":{"field":"open"}}},
{"data":{"name":"tags"},"transform":[{"filter":"datum.panel=='d'"}],"mark":{"type":"text","font":"Liberation Serif","fontSize":68,"fontWeight":"bold","baseline":"middle","color":"black"},"encoding":{"text":{"field":"letter"}}},
{"data":{"name":"tags"},"transform":[{"filter":"datum.panel=='d'"}],"mark":{"type":"text","font":"Liberation Serif","fontSize":68,"baseline":"middle","color":"black","align":"left","dx":19},"encoding":{"text":{"field":"close"}}}
]},
{"width":150,"height":786,"data":{"name":"dBar"},
"layer":[{"mark":{"type":"rect"},"encoding":{"color":{"field":"lo","type":"ordinal","legend":null,"scale":{"domain":[0,10,20,30,40,50,55,60,65,70,71,72,73,74,75,76,77,78],"range":["#0000cc","#0040ff","#00c8ff","#00ff9f","#8cff1a","#ffe600","#ffab00","#ff7000","#ff3800","#ff0a00","#ff0000","#ff0000","#ef0000","#dd0000","#cc0000","#bb0000","#aa0000","#990000"]}}}},
{"mark":{"type":"rect","fill":"transparent","stroke":"#555","strokeWidth":2},"data":{"values":[{"lo":0,"i0":0,"i1":18}]}}],
"encoding":{"x":{"datum":0,"type":"quantitative","scale":{"domain":[0,1],"range":[51,90]},"axis":null},"x2":{"datum":1},"y":{"field":"i0","type":"quantitative","scale":{"domain":[0,18],"range":[786,15],"nice":false,"zero":false},"axis":{"orient":"right","title":null,"values":[0,2,4,6,8,10,12,14,16,18],"labelExpr":"[0,10,20,30,40,50,55,60,65,70,71,72,73,74,75,76,77,78,79][datum.value]","offset":-60,"grid":false}},"y2":{"field":"i1"}}}
]}
